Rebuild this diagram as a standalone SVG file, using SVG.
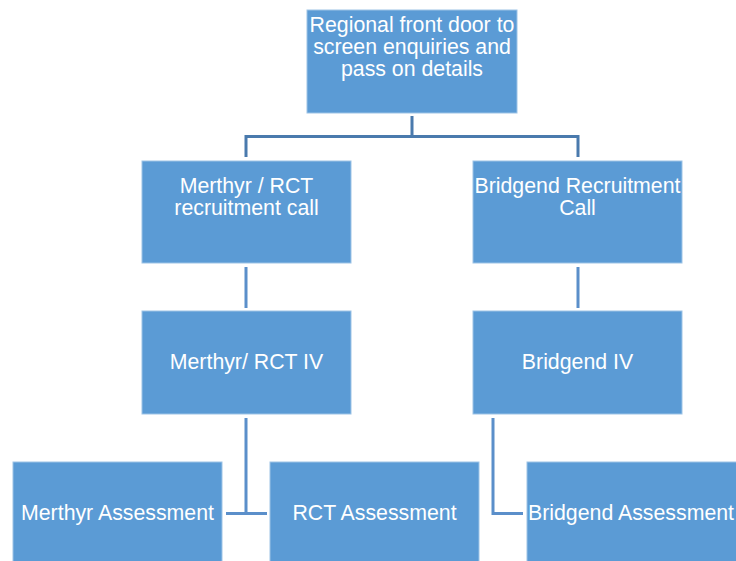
<svg xmlns="http://www.w3.org/2000/svg" width="736" height="561" viewBox="0 0 736 561">
<style>
.box{fill:#5b9bd5;stroke:#9dc3e6;stroke-width:1}
.t{font-family:"Liberation Sans",Arial,sans-serif;font-size:21.3px;fill:#ffffff;text-anchor:middle}
.c1{stroke:#4a7aad;stroke-width:3;fill:none}
.c2{stroke:#5b8fca;stroke-width:3;fill:none}
</style>
<rect width="736" height="561" fill="#ffffff"/>
<g id="connectors">
<path class="c1" d="M412,116 V136.5 M246,136.5 H578 M246,135 V157 M578,135 V157"/>
<path class="c2" d="M246,267 V308 M578,267 V308 M246,418 V513.5 M226,513.5 H267 M493,418 V513.5 H523"/>
</g>
<g id="n1"><rect class="box" x="307" y="10" width="210" height="103"/>
<text class="t" x="412" y="31.5">Regional front door to</text>
<text class="t" x="412" y="53.5">screen enquiries and</text>
<text class="t" x="412" y="75.5">pass on details</text></g>
<g id="n2"><rect class="box" x="142" y="161" width="209" height="102"/>
<text class="t" x="246.5" y="193">Merthyr / RCT</text>
<text class="t" x="246.5" y="215">recruitment call</text></g>
<g id="n3"><rect class="box" x="473" y="161" width="209" height="102"/>
<text class="t" x="577.5" y="193">Bridgend Recruitment</text>
<text class="t" x="577.5" y="215">Call</text></g>
<g id="n4"><rect class="box" x="142" y="311" width="209" height="103"/>
<text class="t" x="246.5" y="369">Merthyr/ RCT IV</text></g>
<g id="n5"><rect class="box" x="473" y="311" width="209" height="103"/>
<text class="t" x="577.5" y="369">Bridgend IV</text></g>
<g id="n6"><rect class="box" x="13" y="462" width="209" height="103"/>
<text class="t" x="117.5" y="519.5">Merthyr Assessment</text></g>
<g id="n7"><rect class="box" x="270" y="462" width="209" height="103"/>
<text class="t" x="374.5" y="519.5">RCT Assessment</text></g>
<g id="n8"><rect class="box" x="527" y="462" width="212" height="103"/>
<text class="t" x="631" y="519.5">Bridgend Assessment</text></g>
</svg>
